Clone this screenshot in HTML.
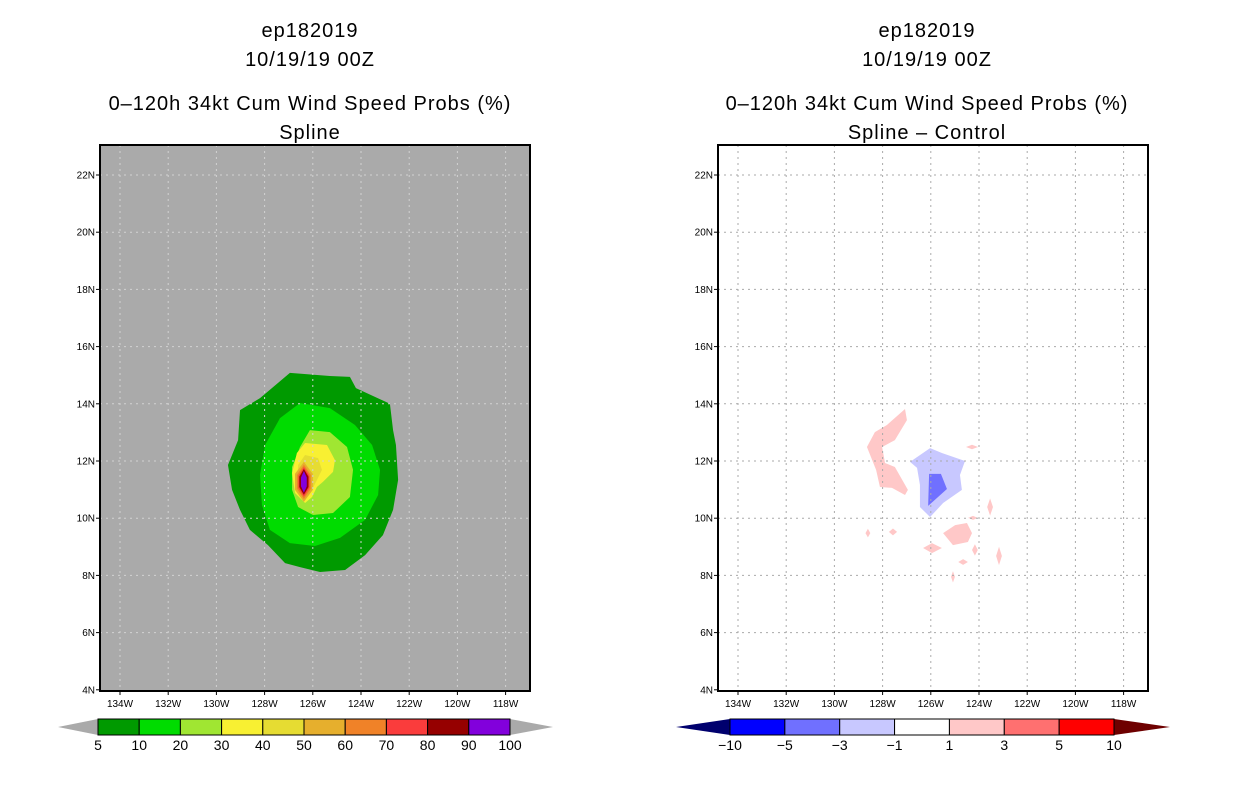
<!DOCTYPE html>
<html><head><meta charset="utf-8"><style>
body{margin:0;background:#fff;width:1236px;height:800px;overflow:hidden}
svg{display:block;font-family:"Liberation Sans",sans-serif}
</style></head><body>
<svg id="s" width="1236" height="800" viewBox="0 0 1236 800"></svg>
<script>
const lats=[22,20,18,16,14,12,10,8,6,4];
const lons=[134,132,130,128,126,124,122,120,118];
const cbLeftLabels=["5","10","20","30","40","50","60","70","80","90","100"];
const cbLeftColors=["#009a00","#00dc00","#a0e632","#f8f032","#e6dc32","#e6af2d","#f08228","#fa3c3c","#960000","#8200dc"];
const cbRightLabels=["-10","-5","-3","-1","1","3","5","10"];
const cbRightColors=["#0000ff","#7070ff","#c8c8ff","#ffffff","#ffc8c8","#ff7070","#ff0000"];
// probability contours (lon W, lat N)
const c5=[[128.19,14.2],[126.95,15.08],[125.29,14.97],[124.46,14.94],[124.21,14.55],[122.8,14.0],[122.67,13.08],[122.55,12.56],[122.46,11.34],[122.67,10.29],[123.09,9.41],[123.83,8.71],[124.66,8.19],[125.7,8.12],[126.53,8.29],[127.15,8.43],[127.86,9.06],[128.61,9.59],[129.02,10.29],[129.35,10.99],[129.52,11.86],[129.1,12.73],[129.02,13.78]];
const c10=[[126.53,14.03],[125.29,13.85],[124.25,13.26],[123.54,12.56],[123.21,11.69],[123.29,10.81],[123.83,9.94],[124.87,9.31],[125.91,9.03],[126.95,9.13],[127.78,9.59],[128.11,10.46],[128.19,11.51],[127.98,12.56],[127.36,13.5]];
const c20=[[126.12,13.08],[125.29,13.01],[124.58,12.49],[124.33,11.69],[124.46,10.74],[125.16,10.18],[125.99,10.11],[126.61,10.39],[126.86,10.99],[126.86,11.79],[126.53,12.49]];
const c30=[[126.32,12.63],[125.41,12.56],[125.08,12.03],[125.16,11.62],[125.58,11.27],[125.83,11.09],[126.03,10.74],[126.32,10.53],[126.74,10.88],[126.86,11.58],[126.66,12.28]];
const c40=[[126.32,12.21],[125.78,12.1],[125.62,11.69],[126.03,10.99],[126.32,10.64],[126.66,11.16],[126.61,11.86]];
// core max: [lon, lat, halfWidthDeg, halfHeightDeg]
const core=[[126.37,11.27,0.37,0.7],[126.37,11.27,0.29,0.6],[126.37,11.27,0.23,0.52],[126.37,11.27,0.19,0.45],[126.37,11.27,0.12,0.38]];
// difference contours
const dPink=[
[[127.07,13.82],[126.99,13.43],[127.49,12.73],[128.02,12.49],[127.9,11.93],[127.49,11.79],[126.95,10.99],[127.07,10.81],[127.61,11.06],[128.11,11.09],[128.27,11.69],[128.65,12.49],[128.32,13.01],[127.82,13.26]],
[[125.49,9.48],[124.99,9.76],[124.5,9.83],[124.29,9.48],[124.46,9.17],[125.08,9.06]],
[[126.32,8.96],[125.95,9.13],[125.54,8.96],[125.95,8.78]]];
const dPinkSmall=[[124.29,12.49,0.25,0.08],[123.54,10.39,0.12,0.3],[124.25,10.01,0.2,0.07],[128.61,9.48,0.1,0.15],[127.57,9.52,0.17,0.12],[124.17,8.89,0.12,0.2],[124.66,8.47,0.2,0.1],[125.08,7.95,0.08,0.2],[123.17,8.68,0.12,0.32]];
const dLightBlue=[[126.86,11.97],[126.03,12.45],[125.54,12.28],[124.58,12.0],[124.79,11.51],[124.71,10.99],[125.49,10.53],[126.03,10.04],[126.45,10.39],[126.45,11.16],[126.57,11.76]];
const dBlue=[[126.07,11.55],[125.58,11.55],[125.33,11.02],[125.74,10.71],[126.11,10.43]];

const S=document.getElementById('s');const NS='http://www.w3.org/2000/svg';
function mk(t,a,p){const e=document.createElementNS(NS,t);for(const k in a)e.setAttribute(k,a[k]);(p||S).appendChild(e);return e;}
function txt(x,y,s,size,anchor,p){const e=mk('text',{x:x,y:y,'font-size':size,'text-anchor':anchor||'middle',fill:'#000'},p);e.textContent=s;return e;}
function panel(x0,bg,gridCol,name){
  const g=mk('g',{});
  
  
  const X=l=>x0+20+(134-l)*24.1, Y=a=>175+(22-a)*28.6;
  const fr=mk('rect',{x:x0,y:145,width:430,height:546,fill:bg},g);
  
  
  return {g,X,Y,finish(){
    const gg=mk('g',{stroke:gridCol,'stroke-width':1,'stroke-dasharray':'2,4'},g);
    
    
    lats.forEach(a=>{if(a>4)mk('line',{x1:x0,x2:x0+430,y1:Y(a),y2:Y(a)},gg);});
    lons.forEach(l=>mk('line',{x1:X(l),x2:X(l),y1:145,y2:691},gg));
    const b=mk('rect',{x:x0,y:145,width:430,height:546,fill:'none',stroke:'#000','stroke-width':2},g);
    
    
    lats.forEach(a=>{mk('line',{x1:x0-4,x2:x0,y1:Y(a),y2:Y(a),stroke:'#000'},g);const t=txt(x0-5,Y(a)+3.5,a+'N',10,'end',g);});
    lons.forEach(l=>{mk('line',{x1:X(l),x2:X(l),y1:691,y2:695,stroke:'#000'},g);const t=txt(X(l),707,l+'W',10,'middle',g);});
  }};
}
function poly(P,pts,fill,name){const e=mk('polygon',{points:pts.map(p=>P.X(p[0])+','+P.Y(p[1])).join(' '),fill:fill},P.g);
  
  }
function diamond(P,d,fill,name,hex){const[c,a,w,h]=d;const pts=hex?[[c,a+h],[c-w,a+h*0.4],[c-w,a-h*0.4],[c,a-h],[c+w,a-h*0.4],[c+w,a+h*0.4]]:[[c,a+h],[c-w,a],[c,a-h],[c+w,a]];poly(P,pts,fill,name);}
function titles(cx,l4,name){
  const g=mk('g',{});
  
  
  [['ep182019',37],['10/19/19 00Z',66],['0\u2013120h 34kt Cum Wind Speed Probs (%)',110],[l4,139]].forEach(r=>txt(cx,r[1],r[0],20,'middle',g).setAttribute('letter-spacing','1'));
}
titles(310,'Spline','left-title');
titles(927,'Spline \u2013 Control','right-title');
// left
const L=panel(100,'#aaaaaa','#d2d2d2','left-map');
poly(L,c5,cbLeftColors[0],'contour-5');poly(L,c10,cbLeftColors[1],'contour-10');poly(L,c20,cbLeftColors[2],'contour-20');
poly(L,c30,cbLeftColors[3],'contour-30');poly(L,c40,cbLeftColors[4],'contour-40');
core.forEach((d,i)=>diamond(L,d,cbLeftColors[5+i],'contour-'+(50+10*i),true));
L.finish();
// right
const R=panel(718,'#ffffff','#aaaaaa','right-map');
dPink.forEach((p,i)=>poly(R,p,'#ffc8c8','diff-positive-'+i));
dPinkSmall.forEach((d,i)=>diamond(R,d,'#ffc8c8','diff-positive-small-'+i,false));
poly(R,dLightBlue,'#c8c8ff','diff-negative-1');poly(R,dBlue,'#7070ff','diff-negative-3');
R.finish();
// colorbars
function cbar(x0,x1,tl,tr,colors,labels,lc,rc,name){
  const g=mk('g',{});
  
  
  const w=(x1-x0)/colors.length;
  mk('polygon',{points:`${tl},727 ${x0},719 ${x0},735`,fill:lc},g);
  mk('polygon',{points:`${tr},727 ${x1},719 ${x1},735`,fill:rc},g);
  colors.forEach((c,i)=>{const r=mk('rect',{x:x0+i*w,y:719,width:w,height:16,fill:c,stroke:'#000','stroke-width':1},g);});
  labels.forEach((s,i)=>{const t=txt(x0+i*w,750,s.replace('-','\u2212'),14,'middle',g);});
}
cbar(98,510,58,553,cbLeftColors,cbLeftLabels,'#aaaaaa','#aaaaaa','left-colorbar');
cbar(730,1114,676,1170,cbRightColors,cbRightLabels,'#00006e','#6e0000','right-colorbar');
</script>
</body></html>
